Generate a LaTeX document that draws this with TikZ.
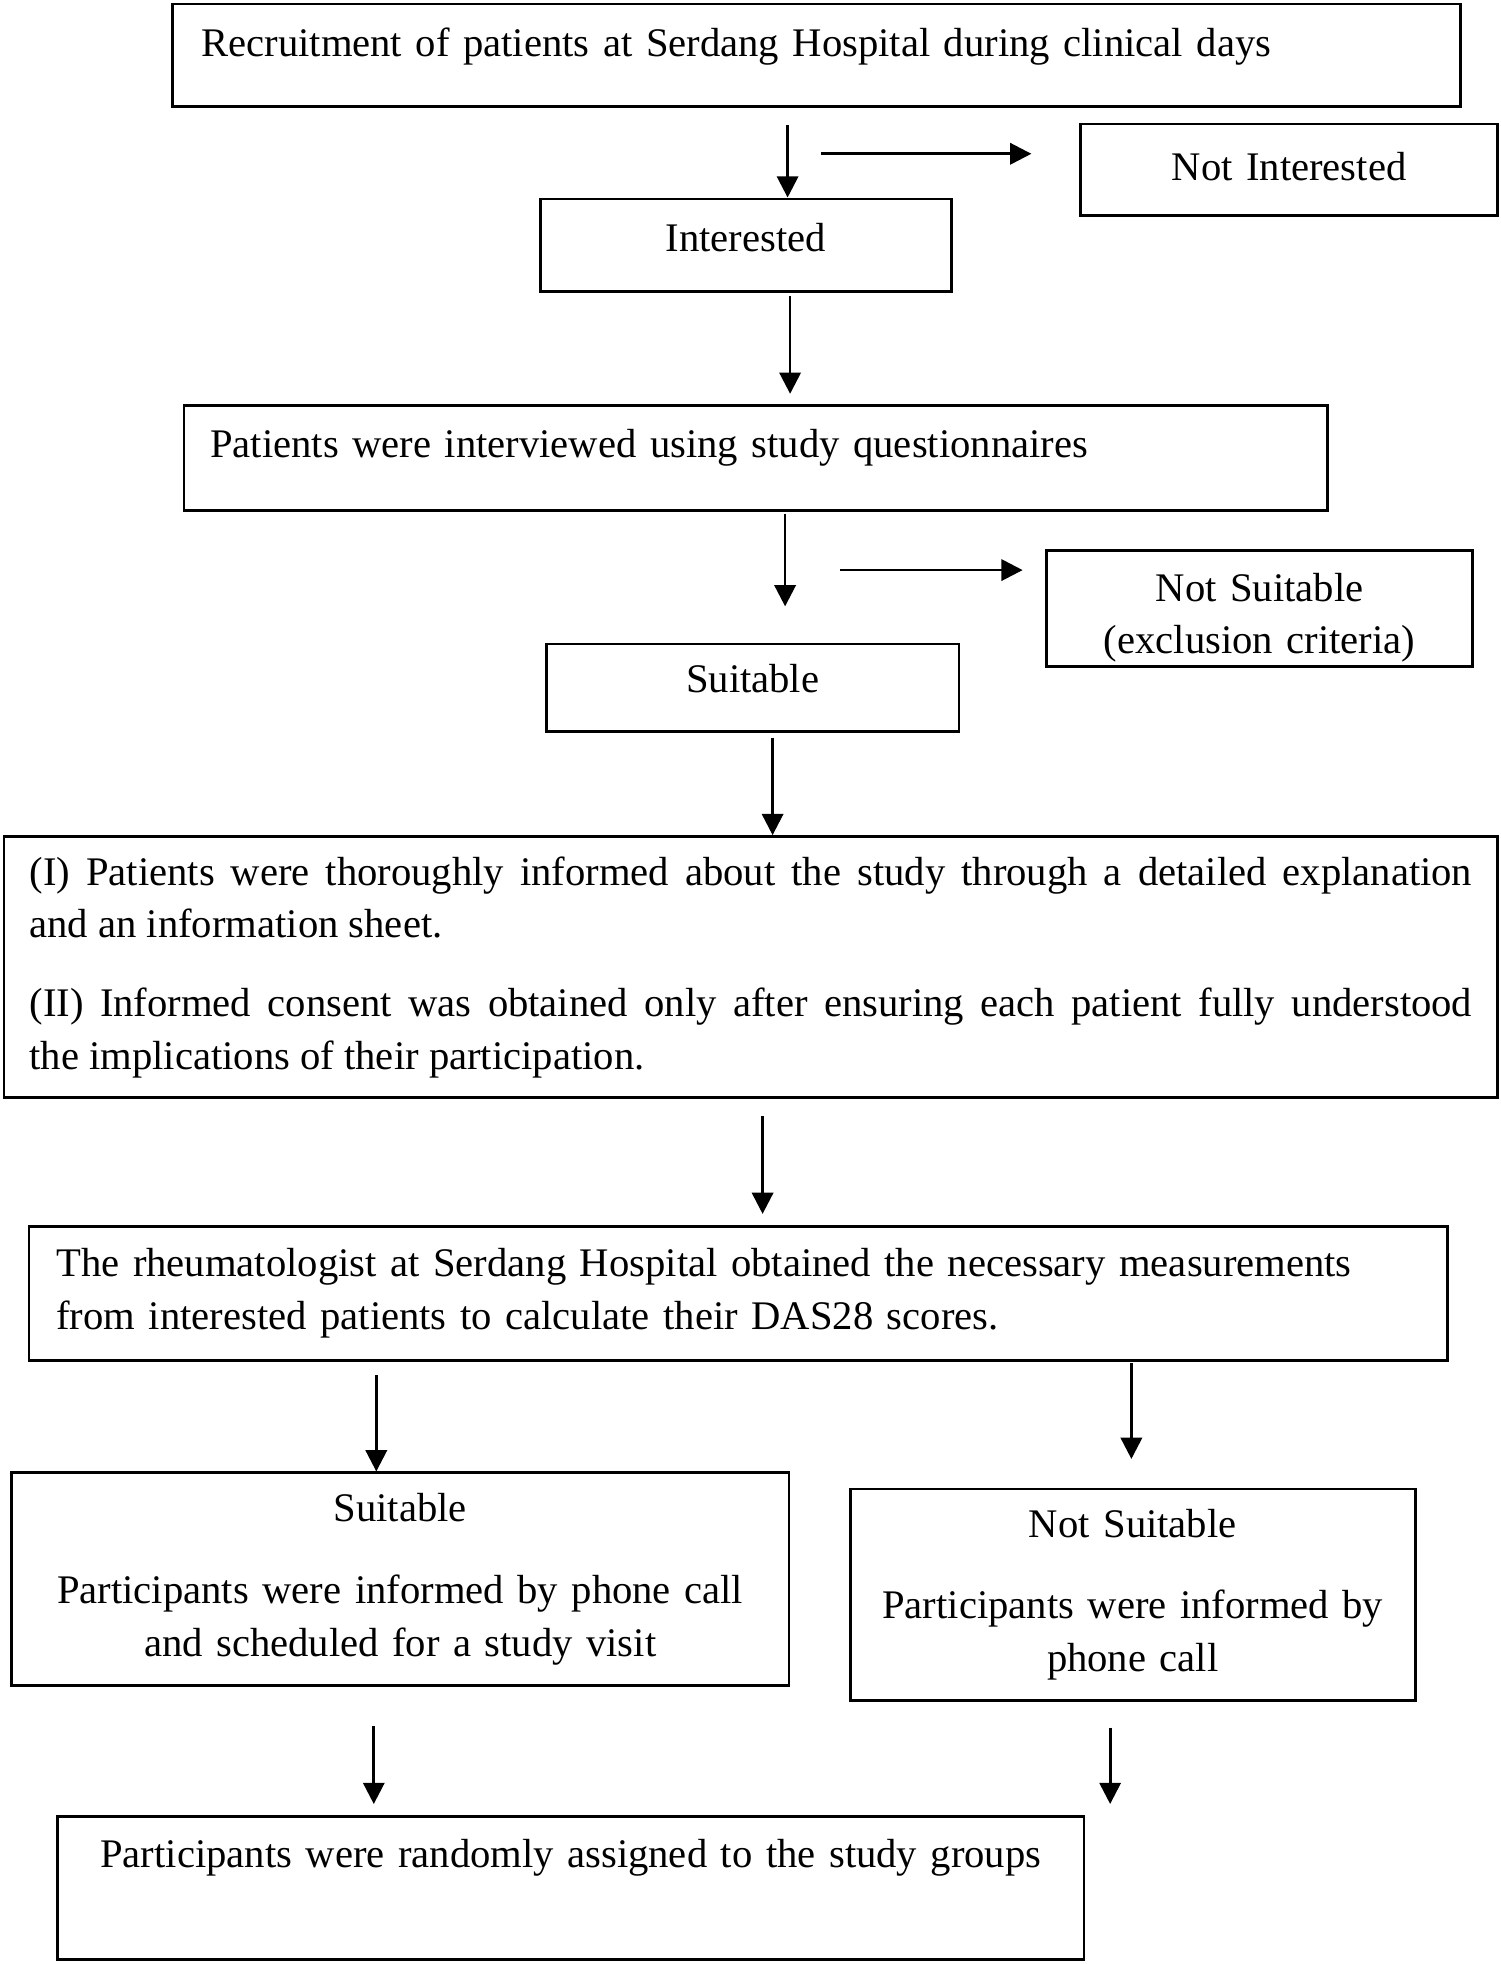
\documentclass[tikz,border=0pt]{standalone}
\usepackage{fontspec}
\setmainfont{Liberation Serif}
\usetikzlibrary{arrows.meta}

\begin{document}
\begin{tikzpicture}[x=0.5pt,y=-0.5pt,
		box/.style={draw,line width=1.1pt,inner ysep=0pt,font=\fontsize{16.25}{21}\selectfont},
		arr/.style={-{Triangle[length=8.5pt,width=8.5pt]},line width=1.1pt}]
		\useasboundingbox (0,0) rectangle (1200,1571);

		\node[box,anchor=north west,inner xsep=11.5pt,text width=492pt,align=left,text height=21pt,text depth=20pt] (recruit) at (137,2) {Recruitment of patients at Serdang Hospital during clinical days};
		\node[box,anchor=north west,inner xsep=0pt,text width=167pt,align=center,text height=22.5pt,text depth=14pt] (notint) at (863,98) {Not Interested};
		\node[box,anchor=north west,inner xsep=0pt,text width=164.5pt,align=center,text height=21pt,text depth=16pt] (interested) at (431,158) {Interested};
		\node[box,anchor=north west,inner xsep=10.5pt,text width=436.5pt,align=left,text height=21pt,text depth=21pt] (interview) at (146,323) {Patients were interviewed using study questionnaires};
		\node[box,anchor=north west,inner xsep=0pt,text width=170.5pt,align=center,text height=20.5pt,text depth=26pt] (notsuit) at (836,439) {Not Suitable\\(exclusion criteria)};
		\node[box,anchor=north west,inner xsep=0pt,text width=165pt,align=center,text height=19.5pt,text depth=15.5pt] (suitable) at (436,514) {Suitable};
		\node[box,anchor=north west,inner xsep=10.25pt,text width=577pt,align=justify,minimum height=104.5pt] (informed) at (2,668) {(I) Patients were thoroughly informed about the study through a detailed explanation\linebreak and an information sheet.\\[10.5pt]
			(II) Informed consent was obtained only after ensuring each patient fully understood\linebreak the implications of their participation.};
		\node[box,anchor=north west,inner xsep=11pt,text width=545.5pt,align=left,minimum height=53.5pt] (rheum) at (22,980) {The rheumatologist at Serdang Hospital obtained the necessary measurements\\from interested patients to calculate their DAS28 scores.};
		\node[box,anchor=north west,inner xsep=5pt,text width=301pt,align=center,minimum height=85pt] (suitleft) at (8,1177) {Suitable\\[12pt]Participants were informed by phone call\\and scheduled for a study visit};
		\node[box,anchor=north west,inner xsep=5pt,text width=216pt,align=center,minimum height=84.5pt] (notsuitright) at (679,1190) {Not Suitable\\[11.5pt]Participants were informed by\\phone call};
		\node[box,anchor=north west,inner xsep=0pt,text width=410.5pt,align=center,text height=20.5pt,text depth=36.5pt] (random) at (45,1452) {Participants were randomly assigned to the study groups};

		% arrows
		\coordinate (down1) at (630,100);
		\draw[arr] (down1) -- (down1 |- interested.north);
		\coordinate (side1) at (657,123);
		\coordinate (side1end) at (825,123);
		\draw[arr] (side1) -- (side1end);
		\coordinate (down2) at (632,237);
		\coordinate (down2end) at (632,315);
		\draw[arr] (down2) -- (down2end);
		\coordinate (down3) at (628,411);
		\coordinate (down3end) at (628,485);
		\draw[arr] (down3) -- (down3end);
		\coordinate (side2) at (672,456);
		\coordinate (side2end) at (818,456);
		\draw[arr] (side2) -- (side2end);
		\coordinate (down4) at (618,590);
		\draw[arr] (down4) -- (down4 |- informed.north);
		\coordinate (down5) at (610,893);
		\coordinate (down5end) at (610,971);
		\draw[arr] (down5) -- (down5end);
		\coordinate (down6) at (301,1100);
		\draw[arr] (down6) -- (down6 |- suitleft.north);
		\coordinate (down7) at (905,1090);
		\coordinate (down7end) at (905,1167);
		\draw[arr] (down7) -- (down7end);
		\coordinate (down8) at (299,1381);
		\coordinate (down8end) at (299,1443);
		\draw[arr] (down8) -- (down8end);
		\coordinate (down9) at (888,1382);
		\coordinate (down9end) at (888,1443);
		\draw[arr] (down9) -- (down9end);
	\end{tikzpicture}
\end{document}
